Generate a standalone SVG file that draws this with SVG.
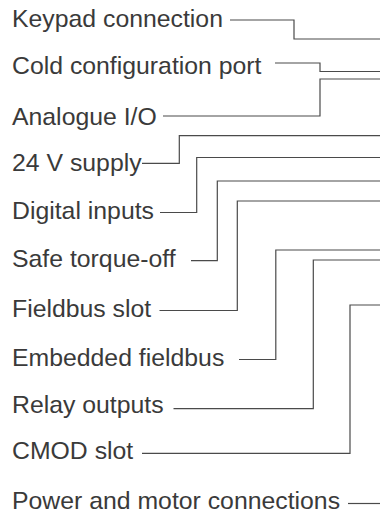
<svg xmlns="http://www.w3.org/2000/svg" width="380" height="513" viewBox="0 0 380 513">
<style>
text{font-family:"Liberation Sans",Arial,sans-serif;font-size:24.8px;fill:#3a3a3a}
.c polyline{fill:none;stroke:#4a4a4a;stroke-width:1.2}
</style>
<rect width="380" height="513" fill="#fff"/>
<g id="keypad"><text x="12" y="26.5">Keypad connection</text></g>
<g id="cold"><text x="12" y="73.5">Cold configuration port</text></g>
<g id="analogue"><text x="12" y="125">Analogue I/O</text></g>
<g id="supply24"><text x="12" y="171">24 V supply</text></g>
<g id="digital"><text x="12" y="219">Digital inputs</text></g>
<g id="sto"><text x="12" y="267">Safe torque-off</text></g>
<g id="fieldbus"><text x="12" y="317">Fieldbus slot</text></g>
<g id="embedded"><text x="12" y="366">Embedded fieldbus</text></g>
<g id="relay"><text x="12" y="413">Relay outputs</text></g>
<g id="cmod"><text x="12" y="459">CMOD slot</text></g>
<g id="power"><text x="12" y="509">Power and motor connections</text></g>
<g class="c" id="connectors">
<polyline points="230,20 294,20 294,39 380,39"/>
<polyline points="275,63 320,63 320,71.5 380,71.5"/>
<polyline points="163,116 320,116 320,79 380,79"/>
<polyline points="142,163.3 179.3,163.3 179.3,135.7 380,135.7"/>
<polyline points="160,212.5 196.7,212.5 196.7,157.5 380,157.5"/>
<polyline points="191,260.7 217.3,260.7 217.3,181 380,181"/>
<polyline points="159.5,310.5 237.3,310.5 237.3,201 380,201"/>
<polyline points="239,359.5 275.8,359.5 275.8,250 380,250"/>
<polyline points="173.5,408.7 313.3,408.7 313.3,260 380,260"/>
<polyline points="142,453.3 350,453.3 350,305 380,305"/>
<polyline points="348,503.5 380,503.5"/>
</g>
</svg>
